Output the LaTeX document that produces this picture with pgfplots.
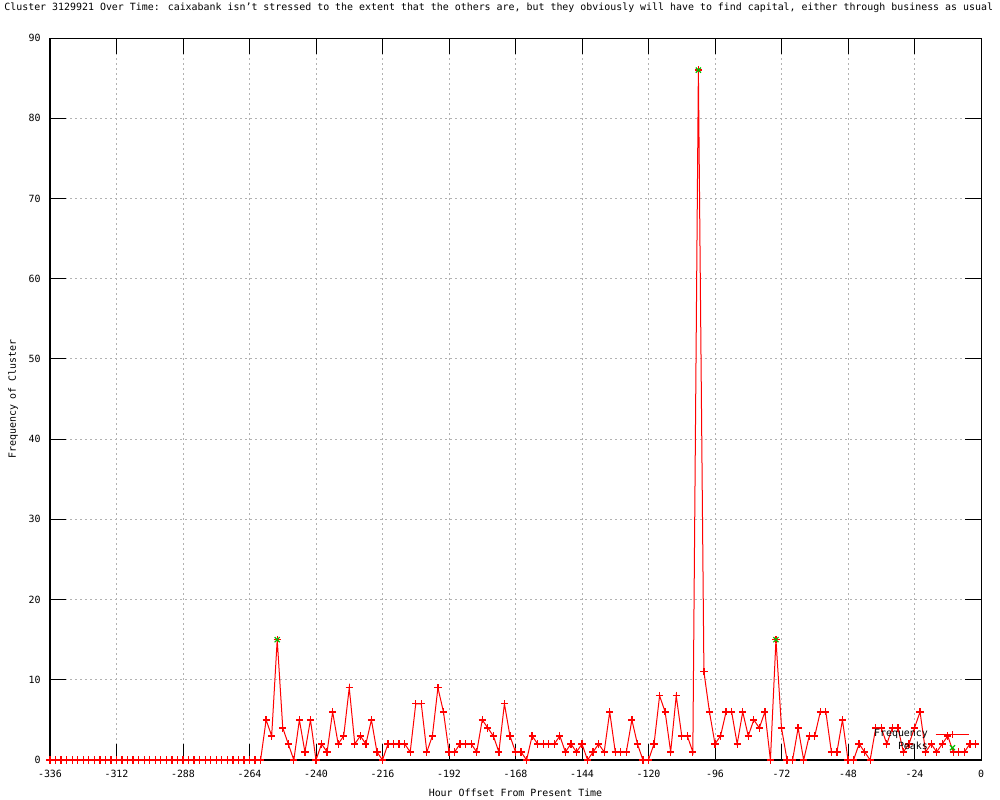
\documentclass[border=0pt]{standalone}
\usepackage{pgfplots}
\pgfplotsset{compat=1.18}
\usepackage{fontspec}
\setmainfont{DejaVu Sans Mono}
\definecolor{gpgreen}{RGB}{0,192,0}
\definecolor{gpred}{RGB}{255,0,0}
\pgfplotstableread{
h v
-336 0
-334 0
-332 0
-330 0
-328 0
-326 0
-324 0
-322 0
-320 0
-318 0
-316 0
-314 0
-312 0
-310 0
-308 0
-306 0
-304 0
-302 0
-300 0
-298 0
-296 0
-294 0
-292 0
-290 0
-288 0
-286 0
-284 0
-282 0
-280 0
-278 0
-276 0
-274 0
-272 0
-270 0
-268 0
-266 0
-264 0
-262 0
-260 0
-258 5
-256 3
-254 15
-252 4
-250 2
-248 0
-246 5
-244 1
-242 5
-240 0
-238 2
-236 1
-234 6
-232 2
-230 3
-228 9
-226 2
-224 3
-222 2
-220 5
-218 1
-216 0
-214 2
-212 2
-210 2
-208 2
-206 1
-204 7
-202 7
-200 1
-198 3
-196 9
-194 6
-192 1
-190 1
-188 2
-186 2
-184 2
-182 1
-180 5
-178 4
-176 3
-174 1
-172 7
-170 3
-168 1
-166 1
-164 0
-162 3
-160 2
-158 2
-156 2
-154 2
-152 3
-150 1
-148 2
-146 1
-144 2
-142 0
-140 1
-138 2
-136 1
-134 6
-132 1
-130 1
-128 1
-126 5
-124 2
-122 0
-120 0
-118 2
-116 8
-114 6
-112 1
-110 8
-108 3
-106 3
-104 1
-102 86
-100 11
-98 6
-96 2
-94 3
-92 6
-90 6
-88 2
-86 6
-84 3
-82 5
-80 4
-78 6
-76 0
-74 15
-72 4
-70 0
-68 0
-66 4
-64 0
-62 3
-60 3
-58 6
-56 6
-54 1
-52 1
-50 5
-48 0
-46 0
-44 2
-42 1
-40 0
-38 4
-36 4
-34 2
-32 4
-30 4
-28 1
-26 2
-24 4
-22 6
-20 1
-18 2
-16 1
-14 2
-12 3
-10 1
-8 1
-6 1
-4 2
-2 2
}\freq
\pgfplotstableread{
h v
-254 15
-102 86
-74 15
}\peaks
\begin{document}
\begin{tikzpicture}[x=1pt,y=1pt]
\path[use as bounding box] (0,0) rectangle (750,600);
\begin{axis}[
  at={(37.5pt,30pt)}, anchor=south west,
  scale only axis, width=698.25pt, height=541.5pt,
  xmin=-336, xmax=0, ymin=0, ymax=90,
  xtick={-336,-312,-288,-264,-240,-216,-192,-168,-144,-120,-96,-72,-48,-24,0},
  xticklabels={-336,-312,-288,-264,-240,-216,-192,-168,-144,-120,-96,-72,-48,-24,0},
  ytick={0,10,20,30,40,50,60,70,80,90},
  yticklabels={0,10,20,30,40,50,60,70,80,90},
  tick align=inside, xtick pos=both, ytick pos=both,
  major tick length=12pt,
  tick style={black, line width=0.75pt},
  axis line style={black, line width=0.75pt},
  grid=major,
  major grid style={gray!60, line width=0.6pt, dash pattern=on 1.5pt off 2.25pt},
  every tick label/.append style={font=\fontsize{7.45}{9}\selectfont},
  xticklabel style={yshift=-4pt},
  yticklabel style={xshift=-3.5pt},
  title={Cluster 3129921 Over Time: caixabank isn’t stressed to the extent that the others are, but they obviously will have to find capital, either through business as usual},
  title style={at={(axis description cs:0.482,1.0305)}, anchor=center, font=\fontsize{7.45}{9}\selectfont},
  xlabel={Hour Offset From Present Time},
  xlabel style={at={(axis description cs:0.5,-0.0457)}, anchor=center, font=\fontsize{7.45}{9}\selectfont},
  ylabel={Frequency of Cluster},
  ylabel style={at={(axis description cs:-0.0397,0.5)}, anchor=center, font=\fontsize{7.45}{9}\selectfont},
  clip mode=individual,
  legend plot pos=right, legend cell align=right,
  legend image code/.code={\draw[mark repeat=2,mark phase=2,#1] plot coordinates {(0pt,0pt) (12.5pt,0pt) (25pt,0pt)};},
  legend style={at={(axis description cs:0.988,0.0076)}, anchor=south east, draw=none, fill=none,
    inner sep=0pt, row sep=0pt, column sep=5.5pt, font=\fontsize{7.45}{9}\selectfont,
    nodes={inner sep=0pt, text height=6pt, text depth=3.75pt}},
]
\addplot[gpred, line width=0.75pt, mark=+, mark size=2.7pt, mark options={solid, line width=0.95pt, draw=gpred}] table[x=h, y=v] {\freq};
\addlegendentry{Frequency}
\addplot[gpgreen, only marks, mark=x, mark size=2.7pt, mark options={line width=0.9pt, draw=gpgreen}] table[x=h, y=v] {\peaks};
\addlegendentry{Peaks}
\end{axis}
\end{tikzpicture}
\end{document}
